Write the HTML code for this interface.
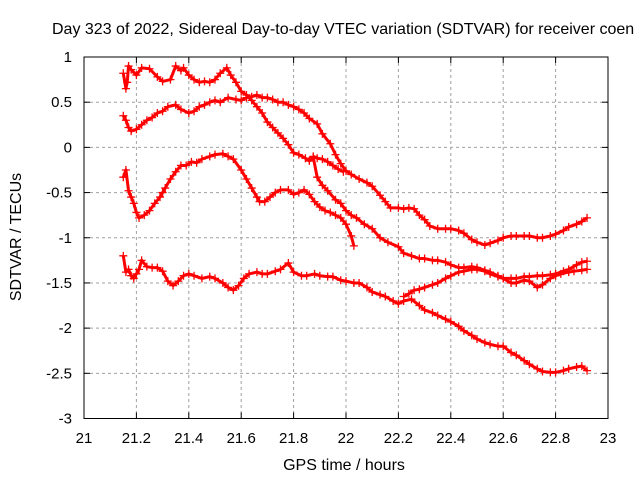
<!DOCTYPE html>
<html><head><meta charset="utf-8"><style>
body{margin:0;background:#fff;}
svg{display:block;font-family:"Liberation Sans",sans-serif;}
</style></head><body>
<svg id="chart" width="640" height="480">
<rect x="0" y="0" width="640" height="480" fill="#fff"/>
<text x="52" y="34" font-size="16" fill="#000">Day 323 of 2022, Sidereal Day-to-day VTEC variation (SDTVAR) for receiver coen</text>
<g id="grid"></g>
<g id="ticks"></g>
<g id="series"></g>
<rect x="84" y="57" width="524" height="361.5" fill="none" stroke="#000" stroke-width="1"/>
<text x="344" y="470" font-size="16" text-anchor="middle">GPS time / hours</text>
<text transform="translate(21,237) rotate(-90)" font-size="16" text-anchor="middle">SDTVAR / TECUs</text>
</svg>
<script>
const xTicks=[21,21.2,21.4,21.6,21.8,22,22.2,22.4,22.6,22.8,23];
const xTickLabels=["21","21.2","21.4","21.6","21.8","22","22.2","22.4","22.6","22.8","23"];
const yTicks=[1,0.5,0,-0.5,-1,-1.5,-2,-2.5,-3];
const yTickLabels=["1","0.5","0","-0.5","-1","-1.5","-2","-2.5","-3"];
const seriesA=[[21.15,0.82],[21.16,0.65],[21.165,0.72],[21.17,0.9],[21.18,0.86],[21.2,0.8],[21.22,0.88],[21.25,0.87],[21.28,0.78],[21.3,0.73],[21.33,0.75],[21.35,0.9],[21.37,0.85],[21.38,0.88],[21.4,0.8],[21.42,0.75],[21.44,0.72],[21.46,0.73],[21.48,0.72],[21.5,0.75],[21.52,0.82],[21.545,0.88],[21.56,0.8],[21.58,0.72],[21.6,0.62],[21.62,0.58],[21.64,0.52],[21.66,0.45],[21.68,0.38],[21.7,0.28],[21.72,0.22],[21.74,0.16],[21.76,0.1],[21.78,0.03],[21.8,-0.06],[21.82,-0.08],[21.845,-0.12],[21.86,-0.15],[21.875,-0.11],[21.89,-0.33],[21.91,-0.42],[21.93,-0.48],[21.96,-0.58],[21.98,-0.62],[22.0,-0.7],[22.02,-0.75],[22.04,-0.78],[22.07,-0.85],[22.1,-0.9],[22.13,-1.0],[22.16,-1.05],[22.2,-1.1],[22.22,-1.17],[22.25,-1.2],[22.28,-1.23],[22.3,-1.23],[22.33,-1.25],[22.35,-1.25],[22.38,-1.27],[22.4,-1.3],[22.43,-1.33],[22.45,-1.33],[22.48,-1.32],[22.5,-1.33],[22.53,-1.36],[22.55,-1.38],[22.58,-1.42],[22.6,-1.45],[22.63,-1.5],[22.65,-1.5],[22.68,-1.47],[22.7,-1.48],[22.73,-1.55],[22.75,-1.52],[22.78,-1.45],[22.8,-1.42],[22.82,-1.4],[22.85,-1.38],[22.87,-1.37],[22.9,-1.36],[22.92,-1.35]];
const seriesB=[[21.15,0.35],[21.16,0.3],[21.17,0.22],[21.18,0.18],[21.2,0.2],[21.22,0.25],[21.24,0.3],[21.26,0.33],[21.28,0.38],[21.3,0.4],[21.32,0.45],[21.35,0.47],[21.37,0.42],[21.4,0.38],[21.42,0.4],[21.44,0.45],[21.46,0.47],[21.48,0.5],[21.5,0.52],[21.52,0.5],[21.55,0.55],[21.58,0.53],[21.6,0.52],[21.62,0.55],[21.64,0.56],[21.66,0.58],[21.68,0.55],[21.7,0.55],[21.72,0.53],[21.74,0.5],[21.76,0.5],[21.78,0.47],[21.8,0.45],[21.82,0.42],[21.84,0.38],[21.86,0.32],[21.89,0.26],[21.91,0.15],[21.94,0.04],[21.96,-0.08],[21.98,-0.18],[22.0,-0.26],[22.02,-0.3],[22.05,-0.35],[22.08,-0.39],[22.1,-0.43],[22.13,-0.53],[22.15,-0.6],[22.17,-0.67],[22.2,-0.67],[22.22,-0.68],[22.24,-0.67],[22.26,-0.68],[22.28,-0.75],[22.3,-0.8],[22.32,-0.87],[22.35,-0.9],[22.38,-0.9],[22.4,-0.9],[22.43,-0.92],[22.45,-0.95],[22.48,-1.02],[22.5,-1.05],[22.53,-1.08],[22.55,-1.06],[22.58,-1.03],[22.6,-1.0],[22.63,-0.98],[22.65,-0.98],[22.68,-0.98],[22.7,-0.98],[22.73,-1.0],[22.75,-1.0],[22.78,-0.98],[22.8,-0.96],[22.83,-0.92],[22.85,-0.88],[22.88,-0.85],[22.9,-0.82],[22.92,-0.78]];
const seriesC=[[21.15,-0.33],[21.16,-0.25],[21.17,-0.48],[21.18,-0.55],[21.19,-0.62],[21.2,-0.72],[21.21,-0.78],[21.23,-0.75],[21.25,-0.7],[21.27,-0.62],[21.29,-0.55],[21.3,-0.5],[21.31,-0.45],[21.33,-0.35],[21.35,-0.27],[21.37,-0.2],[21.39,-0.2],[21.41,-0.16],[21.43,-0.17],[21.45,-0.13],[21.48,-0.1],[21.5,-0.08],[21.53,-0.07],[21.55,-0.1],[21.57,-0.13],[21.6,-0.25],[21.62,-0.35],[21.64,-0.45],[21.66,-0.55],[21.67,-0.6],[21.69,-0.6],[21.71,-0.55],[21.73,-0.5],[21.75,-0.47],[21.78,-0.47],[21.8,-0.52],[21.82,-0.5],[21.84,-0.47],[21.86,-0.52],[21.88,-0.6],[21.9,-0.66],[21.92,-0.7],[21.94,-0.72],[21.96,-0.75],[21.98,-0.78],[22.0,-0.85],[22.02,-0.98],[22.03,-1.09]];
const seriesD=[[21.15,-1.2],[21.16,-1.38],[21.17,-1.35],[21.18,-1.42],[21.19,-1.45],[21.2,-1.4],[21.21,-1.35],[21.22,-1.25],[21.24,-1.32],[21.26,-1.33],[21.28,-1.33],[21.3,-1.37],[21.32,-1.48],[21.34,-1.53],[21.36,-1.48],[21.38,-1.42],[21.4,-1.4],[21.42,-1.42],[21.45,-1.45],[21.48,-1.43],[21.5,-1.45],[21.53,-1.5],[21.55,-1.55],[21.57,-1.58],[21.59,-1.53],[21.61,-1.45],[21.63,-1.4],[21.66,-1.38],[21.68,-1.4],[21.7,-1.4],[21.73,-1.37],[21.75,-1.35],[21.78,-1.28],[21.8,-1.38],[21.83,-1.42],[21.85,-1.42],[21.88,-1.4],[21.9,-1.42],[21.93,-1.43],[21.95,-1.43],[21.98,-1.47],[22.0,-1.48],[22.03,-1.5],[22.05,-1.5],[22.08,-1.55],[22.1,-1.6],[22.13,-1.63],[22.15,-1.65],[22.18,-1.7],[22.2,-1.73],[22.22,-1.7],[22.25,-1.68],[22.28,-1.75],[22.3,-1.8],[22.33,-1.83],[22.35,-1.86],[22.38,-1.9],[22.4,-1.93],[22.43,-1.98],[22.45,-2.03],[22.48,-2.08],[22.5,-2.12],[22.53,-2.16],[22.55,-2.18],[22.58,-2.2],[22.6,-2.2],[22.63,-2.27],[22.65,-2.3],[22.68,-2.36],[22.7,-2.4],[22.73,-2.45],[22.75,-2.48],[22.78,-2.49],[22.8,-2.49],[22.83,-2.47],[22.85,-2.45],[22.88,-2.43],[22.9,-2.42],[22.92,-2.47]];
const seriesE=[[22.22,-1.65],[22.24,-1.62],[22.26,-1.58],[22.28,-1.57],[22.3,-1.55],[22.33,-1.52],[22.35,-1.5],[22.38,-1.45],[22.4,-1.42],[22.43,-1.38],[22.45,-1.37],[22.48,-1.35],[22.5,-1.35],[22.53,-1.37],[22.55,-1.4],[22.58,-1.43],[22.6,-1.45],[22.63,-1.45],[22.65,-1.45],[22.68,-1.43],[22.7,-1.43],[22.73,-1.42],[22.75,-1.42],[22.78,-1.41],[22.8,-1.4],[22.83,-1.37],[22.85,-1.35],[22.88,-1.3],[22.9,-1.27],[22.92,-1.26]];
const seriesF=[[21.875,-0.1],[21.89,-0.12],[21.91,-0.13],[21.93,-0.16],[21.95,-0.2],[21.97,-0.24],[21.99,-0.27]];

const L=84,R=608,T=57,B=418.5;
function xs(h){return L+(h-21)/2*(R-L);}
function ys(v){return T+(1-v)/4*(B-T);}
const NS='http://www.w3.org/2000/svg';
const grid=document.getElementById('grid'),ticks=document.getElementById('ticks'),ser=document.getElementById('series');
function mk(tag,attrs,parent){const e=document.createElementNS(NS,tag);for(const k in attrs)e.setAttribute(k,attrs[k]);parent.appendChild(e);return e;}
xTicks.forEach((t,i)=>{
  const x=xs(t);
  if(i>0&&i<xTicks.length-1){const g=mk('line',{x1:x,x2:x,y1:T,y2:B,stroke:'#a0a0a0','stroke-dasharray':'3,3','stroke-width':1},grid);
  
  }
  mk('line',{x1:x,x2:x,y1:B,y2:B-6,stroke:'#000'},ticks);
  mk('line',{x1:x,x2:x,y1:T,y2:T+6,stroke:'#000'},ticks);
  const tx=mk('text',{x:x,y:443,'font-size':15,'text-anchor':'middle'},ticks);
  tx.textContent=xTickLabels[i];
  
  
});
yTicks.forEach((t,i)=>{
  const y=ys(t);
  if(i>0&&i<yTicks.length-1){const g=mk('line',{x1:L,x2:R,y1:y,y2:y,stroke:'#a0a0a0','stroke-dasharray':'3,3','stroke-width':1},grid);
  
  }
  mk('line',{x1:L,x2:L+6,y1:y,y2:y,stroke:'#000'},ticks);
  mk('line',{x1:R,x2:R-6,y1:y,y2:y,stroke:'#000'},ticks);
  const tx=mk('text',{x:72,y:y+5,'font-size':15,'text-anchor':'end'},ticks);
  tx.textContent=yTickLabels[i];
  
  
});
const all=[['series-a',seriesA],['series-b',seriesB],['series-c',seriesC],['series-d',seriesD],['series-e',seriesE],['series-f',seriesF]];
all.forEach(([name,data])=>{
  const g=mk('g',{},ser);
  
  
  const pts=data.map(d=>xs(d[0])+','+ys(d[1])).join(' ');
  mk('polyline',{points:pts,fill:'none',stroke:'#ff0000','stroke-width':3,'stroke-linejoin':'round'},g);
  let d='';
  data.forEach(p=>{const x=xs(p[0]),y=ys(p[1]);d+='M'+(x-4)+' '+y+'h8M'+x+' '+(y-4)+'v8';});
  const m=mk('path',{d:d,stroke:'#ff0000','stroke-width':1.3,fill:'none'},g);
  
  
});
</script>
</body></html>
